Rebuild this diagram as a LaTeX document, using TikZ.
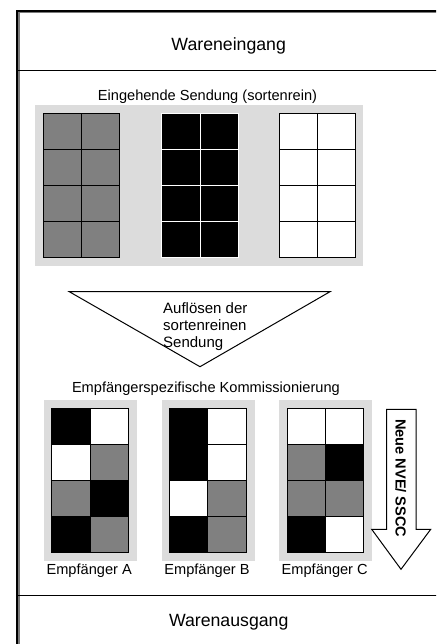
\documentclass[tikz,border=0pt]{standalone}
\usepackage{fontspec}
\setmainfont{Liberation Sans}
\definecolor{panelgray}{HTML}{DCDCDC}
\definecolor{midgray}{HTML}{808080}
\definecolor{shadegray}{HTML}{7A7A7A}

% one pallet of 2 x 4 cartons: #1,#2 = top-left corner, #3 = list of col/row/fill
\newcommand\palletgrid[3]{%
  \foreach \cc/\rr/\fc in {#3}
    \fill[\fc] (#1+\cc*38.3,#2+\rr*36) rectangle ++(38.3,36);
  \draw[gridline] (#1,#2) rectangle ++(76.6,144);
  \draw[gridline] (#1+38.3,#2) -- ++(0,144);
  \foreach \k in {1,2,3}
    \draw[gridline] (#1,#2+\k*36) -- ++(76.6,0);
}

\begin{document}
\begin{tikzpicture}[x=1pt,y=-1pt,
  gridline/.style={line width=0.9pt,draw=black},
  bigtext/.style={font=\fontsize{17.7}{20}\selectfont,inner sep=0pt},
  smalltext/.style={font=\fontsize{14.6}{17}\selectfont,inner sep=0pt},
  thinline/.style={line width=1pt,draw=black}]
\useasboundingbox (0,0) rectangle (436,644);
\clip (0,0) rectangle (436,644);

% outer frame with inner shade
\draw[shadegray,line width=1.5pt] (18.8,660) -- (18.8,12.3) -- (450,12.3);
\draw[black,line width=2pt] (17,660) -- (17,10.8) -- (450,10.8);

% section dividers
\draw[thinline] (17,71) -- (450,71);
\draw[thinline] (17,595) -- (450,595);

\node[bigtext,anchor=base] (wein) at (228.7,50.7) {Wareneingang};
\node[bigtext,anchor=base] (waus) at (228.7,626.5) {Warenausgang};

% incoming single-sort shipment
\node[smalltext,anchor=base] (inlabel) at (207.5,100.5) {Eingehende Sendung (sortenrein)};
\fill[panelgray] (35,105) rectangle (363,266);
\palletgrid{43.3}{113.3}{0/0/midgray,1/0/midgray,0/1/midgray,1/1/midgray,0/2/midgray,1/2/midgray,0/3/midgray,1/3/midgray}
\fill[black] (161.7,113.3) rectangle ++(76.6,144);
\draw[line width=0.9pt,white] (161.7,113.3) rectangle ++(76.6,144);
\draw[line width=0.9pt,white] (200,113.3) -- ++(0,144);
\foreach \k in {1,2,3}
  \draw[line width=0.9pt,white] (161.7,113.3+\k*36) -- ++(76.6,0);
\palletgrid{279.3}{113.3}{0/0/white,1/0/white,0/1/white,1/1/white,0/2/white,1/2/white,0/3/white,1/3/white}

% splitting step
\draw[thinline,fill=white] (69.3,291.7) -- (330,291.7) -- (200,366.7) -- cycle;
\node[font=\fontsize{15}{17}\selectfont,inner sep=0pt,align=left,anchor=north west]
  (split) at (163,302.3) {Auflösen der\\sortenreinen\\Sendung};

% consignee-specific picking
\node[smalltext,anchor=base] (picklabel) at (205.9,392.5) {Empfängerspezifische Kommissionierung};
\fill[panelgray] (44,400) rectangle (136.7,560.7);
\fill[panelgray] (162,400) rectangle (254.7,560.7);
\fill[panelgray] (279,400) rectangle (372,560.7);
\palletgrid{51.7}{408.3}{0/0/black,1/0/white,0/1/white,1/1/midgray,0/2/midgray,1/2/black,0/3/black,1/3/midgray}
\palletgrid{169.5}{408.3}{0/0/black,1/0/white,0/1/black,1/1/white,0/2/white,1/2/midgray,0/3/black,1/3/midgray}
\palletgrid{287}{408.3}{0/0/white,1/0/white,0/1/midgray,1/1/black,0/2/midgray,1/2/midgray,0/3/black,1/3/white}

\node[smalltext,anchor=base] (recA) at (89.2,574.5) {Empfänger A};
\node[smalltext,anchor=base] (recB) at (207,574.5) {Empfänger B};
\node[smalltext,anchor=base] (recC) at (324.7,574.5) {Empfänger C};

% new SSCC label arrow
\draw[thinline,fill=white] (386.7,409.3) -- (416,409.3) -- (416,529.3) -- (430.7,529.3)
  -- (401,569.3) -- (371.7,529.3) -- (386.7,529.3) -- cycle;
\node[font=\bfseries\fontsize{14.6}{17}\selectfont,inner sep=0pt,rotate=-90,anchor=base]
  (sscc) at (395.5,478.3) {Neue NVE/ SSCC};
\end{tikzpicture}
\end{document}
